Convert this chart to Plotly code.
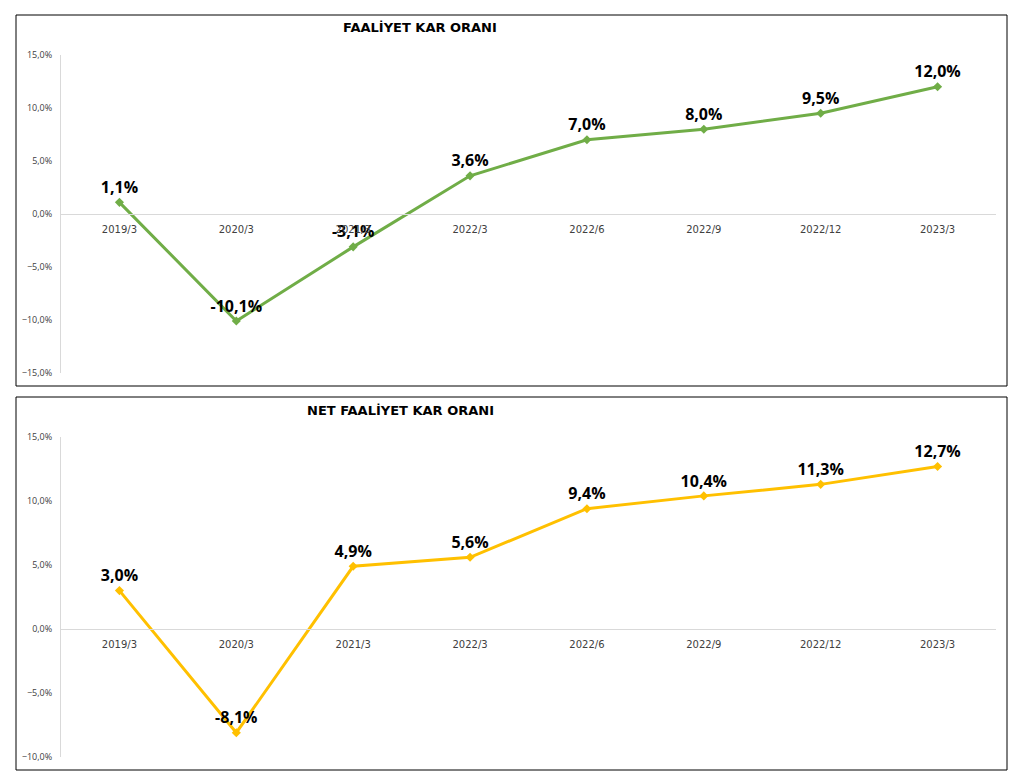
import plotly.graph_objects as go

categories = ["2019/3", "2020/3", "2021/3", "2022/3", "2022/6", "2022/9", "2022/12", "2023/3"]
faaliyet_kar = [0.011, -0.101, -0.031, 0.036, 0.070, 0.080, 0.095, 0.120]
net_faaliyet_kar = [0.030, -0.081, 0.049, 0.056, 0.094, 0.104, 0.113, 0.127]

title_top = "FAALİYET KAR ORANI"
title_bottom = "NET FAALİYET KAR ORANI"

W, H = 1021, 780

def px_x(x):
    return x / W

def px_y(y):
    return 1 - y / H

fig = go.Figure()

panels = [
    dict(vals=faaliyet_kar, color="#70AD47", title=title_top, box=(16, 15, 1007, 386),
         dom=(55, 373), rng=(-0.15, 0.15), dtick=0.05, title_xy=(420, 28), ax="", tick0=-0.15),
    dict(vals=net_faaliyet_kar, color="#FFC000", title=title_bottom, box=(16, 397, 1007, 770),
         dom=(437, 757), rng=(-0.10, 0.15), dtick=0.05, title_xy=(400, 410), ax="2", tick0=-0.10),
]

layout = dict(
    width=W, height=H, margin=dict(l=0, r=0, t=0, b=0, autoexpand=False),
    paper_bgcolor="white", plot_bgcolor="white",
    showlegend=False, separators=", ",
    shapes=[], annotations=[],
)

for p in panels:
    ax = p["ax"]
    fig.add_trace(go.Scatter(
        x=categories, y=p["vals"], mode="lines+markers+text",
        line=dict(color=p["color"], width=3),
        marker=dict(symbol="diamond", size=7, color=p["color"]),
        text=[f"{v*100:.1f}%".replace(".", ",") for v in p["vals"]],
        textposition="top center",
        textfont=dict(family="Open Sans", size=16, color="black", weight="bold"),
        xaxis="x" + ax, yaxis="y" + ax, cliponaxis=False,
    ))
    ytop, ybot = p["dom"]
    d0, d1 = px_y(ybot), px_y(ytop)
    ymin, ymax = p["rng"]
    zero_pos = d0 + (0 - ymin) / (ymax - ymin) * (d1 - d0)
    layout["xaxis" + ax] = dict(
        domain=[px_x(61), px_x(996)], anchor="free", position=zero_pos,
        range=[-0.5, len(categories) - 0.5],
        showline=True, linecolor="#D9D9D9", linewidth=1,
        showgrid=False, ticks="", zeroline=False,
        ticklabelstandoff=6,
        tickfont=dict(family="DejaVu Sans", size=10, color="#404040"),
        fixedrange=True,
    )
    layout["yaxis" + ax] = dict(
        domain=[d0, d1], range=[ymin, ymax], anchor="x" + ax,
        tick0=p["tick0"], dtick=p["dtick"], tickformat=".1%",
        showline=True, linecolor="#D9D9D9", linewidth=1,
        showgrid=False, zeroline=False, ticks="",
        ticklabelstandoff=6,
        tickfont=dict(family="Open Sans", size=9, color="#404040"),
        fixedrange=True,
    )
    x0, y0, x1, y1 = p["box"]
    layout["shapes"].append(dict(
        type="rect", xref="paper", yref="paper",
        x0=px_x(x0), x1=px_x(x1), y0=px_y(y0), y1=px_y(y1),
        line=dict(color="black", width=1), layer="below",
    ))
    tx, ty = p["title_xy"]
    layout["annotations"].append(dict(
        text=p["title"], xref="paper", yref="paper",
        x=px_x(tx), y=px_y(ty), xanchor="center", yanchor="middle",
        showarrow=False,
        font=dict(family="DejaVu Sans", size=13, color="black", weight="bold"),
    ))

fig.update_layout(**layout)
fig.write_html(
    "out.html",
    config={"displayModeBar": False},
    post_script="document.body.style.margin='0';document.body.style.overflow='hidden';",
)
